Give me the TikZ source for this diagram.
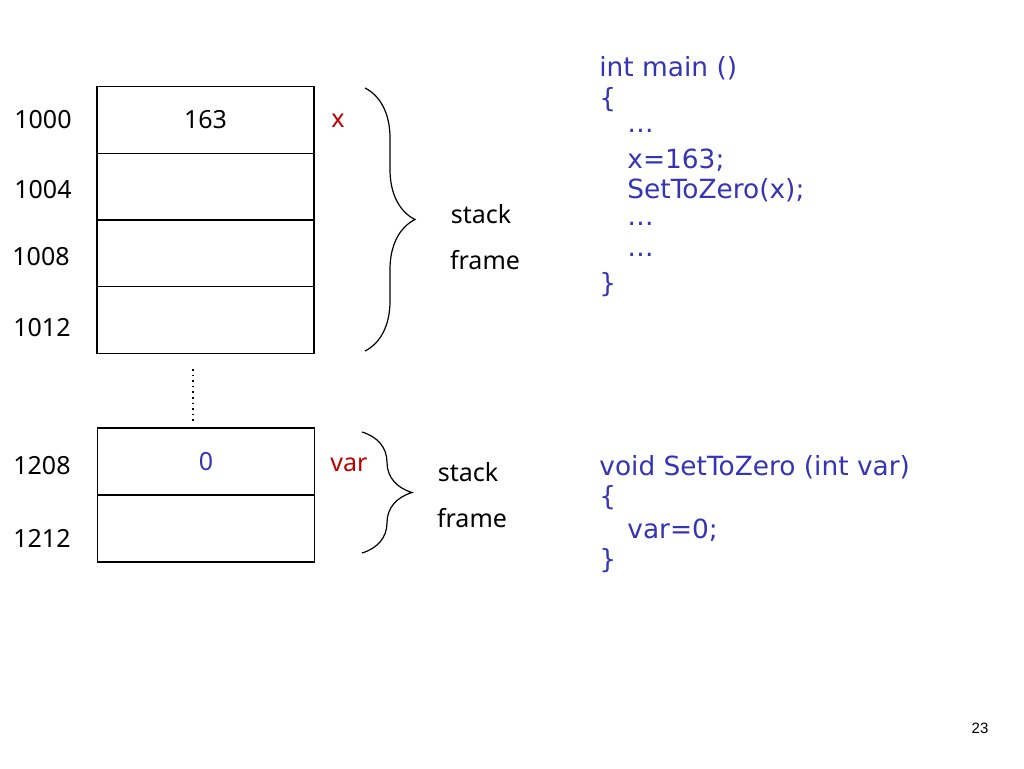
\documentclass[tikz,border=0pt]{standalone}
\usepackage{fontspec}
\usepackage{tikz}
\usetikzlibrary{decorations.pathreplacing, positioning}
\newfontfamily\codefont{DejaVu Sans}
\newfontfamily\labfont{Noto Sans}
\newfontfamily\numfont{Liberation Sans}
\definecolor{codeblue}{RGB}{52,52,180}
\definecolor{varred}{RGB}{190,0,0}

\begin{document}
\begin{tikzpicture}[x=0.5pt, y=-0.5pt,
    cell/.style={draw, semithick, minimum width=108.5pt, minimum height=33.5pt, inner sep=0pt, font=\labfont\fontsize{12.5}{14}\selectfont},
    addr/.style={font=\labfont\fontsize{12.5}{14}\selectfont},
    varlabel/.style={font=\labfont\fontsize{12.5}{14}\selectfont, text=varred},
    code/.style={anchor=west, font=\codefont\fontsize{13.2}{15}\selectfont, text=codeblue, inner sep=0pt},
    curly/.style={decorate, decoration={brace, amplitude=25pt}, semithick}]
        \useasboundingbox (0,0) rectangle (1024,768);

        % Stack frame of main
        \node[cell] (c1000) at (205.5,120) {163};
        \node[cell] (c1004) at (205.5,187) {};
        \node[cell] (c1008) at (205.5,253) {};
        \node[cell] (c1012) at (205.5,320) {};
        \node[addr] (a1000) at (43,120) {1000};
        \node[addr] (a1004) at (43,190) {1004};
        \node[addr] (a1008) at (41,257) {1008};
        \node[addr] (a1012) at (42,328) {1012};
        \node[varlabel] (nx) at (338,121) {x};

        \coordinate (b1top) at (365,88);
        \coordinate (b1bot) at (365,351);
        \draw[curly] (b1top) -- (b1bot);
        \node[addr] (stack1) at (481,214) {stack};
        \node[addr] (frame1) at (485,260) {frame};

        % Gap in memory
        \coordinate (gaptop) at (193,369);
        \coordinate (gapbot) at (193,422);
        \draw[thick, dotted] (gaptop) -- (gapbot);

        % Stack frame of SetToZero
        \node[cell] (c1208) at (206,461.5) {\textcolor{codeblue}{0}};
        \node[cell] (c1212) at (206,528.5) {};
        \node[addr] (a1208) at (42,466) {1208};
        \node[addr] (a1212) at (42,538) {1212};
        \node[varlabel] (nvar) at (349,465) {var};

        \coordinate (b2top) at (362,432);
        \coordinate (b2bot) at (362,553);
        \draw[curly] (b2top) -- (b2bot);
        \node[addr] (stack2) at (468,472) {stack};
        \node[addr] (frame2) at (472,518) {frame};

        % Code
        \node[code] (l1) at (599,68) {int main ()};
        \node[code] (l2) at (599,100) {\{};
        \node[code] (l3) at (627,131) {\dots};
        \node[code] (l4) at (627,160) {x=163;};
        \node[code] (l5) at (627,190) {SetToZero(x);};
        \node[code] (l6) at (627,224) {\dots};
        \node[code] (l7) at (627,255) {\dots};
        \node[code] (l8) at (599,285) {\}};

        \node[code] (f1) at (599,467) {void SetToZero (int var)};
        \node[code] (f2) at (599,498) {\{};
        \node[code] (f3) at (627,530) {var=0;};
        \node[code] (f4) at (599,561) {\}};

        % Page number
        \node[font=\numfont\fontsize{7.5}{9}\selectfont] (page) at (980,728) {23};
\end{tikzpicture}
\end{document}
